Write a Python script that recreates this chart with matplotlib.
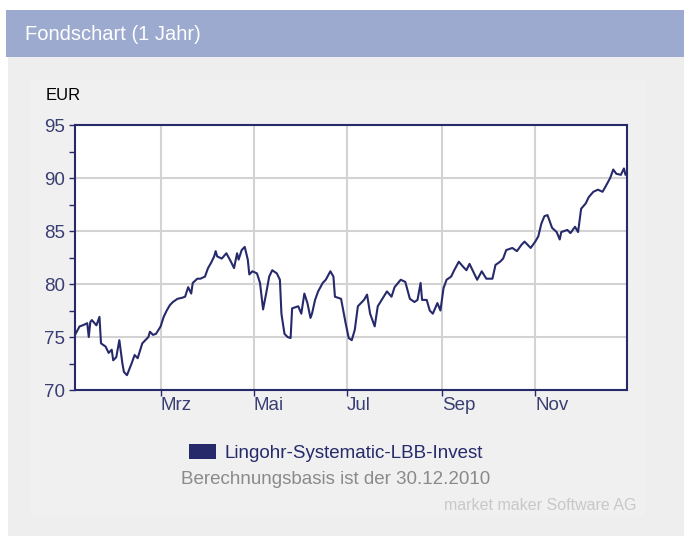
import matplotlib.pyplot as plt
from matplotlib.patches import Rectangle, Patch
import pandas as pd

plt.rcParams['font.family'] = ['Liberation Sans', 'DejaVu Sans']

dates = ['2011-01-04', '2011-01-07', '2011-01-09', '2011-01-12', '2011-01-13', '2011-01-14',
         '2011-01-15', '2011-01-18', '2011-01-20', '2011-01-21', '2011-01-24', '2011-01-26',
         '2011-01-28', '2011-01-29', '2011-01-31', '2011-02-02', '2011-02-04', '2011-02-05',
         '2011-02-07', '2011-02-10', '2011-02-12', '2011-02-14', '2011-02-17', '2011-02-19',
         '2011-02-21', '2011-02-22', '2011-02-24', '2011-02-26', '2011-03-01', '2011-03-03',
         '2011-03-05', '2011-03-07', '2011-03-09', '2011-03-12', '2011-03-15', '2011-03-17',
         '2011-03-19', '2011-03-21', '2011-03-22', '2011-03-25', '2011-03-27', '2011-03-30',
         '2011-04-01', '2011-04-03', '2011-04-05', '2011-04-06', '2011-04-07', '2011-04-10',
         '2011-04-13', '2011-04-16', '2011-04-18', '2011-04-20', '2011-04-21', '2011-04-23',
         '2011-04-25', '2011-04-27', '2011-04-28', '2011-04-30', '2011-05-03', '2011-05-05',
         '2011-05-07', '2011-05-09', '2011-05-11', '2011-05-13', '2011-05-16', '2011-05-18',
         '2011-05-19', '2011-05-21', '2011-05-23', '2011-05-25', '2011-05-26', '2011-05-30',
         '2011-06-01', '2011-06-03', '2011-06-05', '2011-06-07', '2011-06-08', '2011-06-10',
         '2011-06-12', '2011-06-15', '2011-06-17', '2011-06-20', '2011-06-22', '2011-06-23',
         '2011-06-27', '2011-06-30', '2011-07-02', '2011-07-04', '2011-07-06', '2011-07-08',
         '2011-07-12', '2011-07-14', '2011-07-16', '2011-07-19', '2011-07-21', '2011-07-24',
         '2011-07-27', '2011-07-30', '2011-08-01', '2011-08-05', '2011-08-08', '2011-08-11',
         '2011-08-14', '2011-08-16', '2011-08-18', '2011-08-19', '2011-08-22', '2011-08-24',
         '2011-08-26', '2011-08-29', '2011-08-31', '2011-09-02', '2011-09-04', '2011-09-07',
         '2011-09-09', '2011-09-12', '2011-09-15', '2011-09-17', '2011-09-19', '2011-09-22',
         '2011-09-24', '2011-09-27', '2011-09-30', '2011-10-04', '2011-10-06', '2011-10-09',
         '2011-10-11', '2011-10-13', '2011-10-17', '2011-10-20', '2011-10-23', '2011-10-25',
         '2011-10-29', '2011-11-01', '2011-11-03', '2011-11-05', '2011-11-07', '2011-11-09',
         '2011-11-12', '2011-11-15', '2011-11-17', '2011-11-18', '2011-11-22', '2011-11-24',
         '2011-11-27', '2011-11-29', '2011-12-01', '2011-12-04', '2011-12-06', '2011-12-09',
         '2011-12-12', '2011-12-15', '2011-12-17', '2011-12-20', '2011-12-22', '2011-12-24',
         '2011-12-27', '2011-12-29', '2011-12-30', '2011-12-31']
prices = [75.2, 76.0, 76.1, 76.3, 75.0, 76.4,
          76.6, 76.1, 76.9, 74.4, 74.1, 73.5,
          73.8, 72.8, 73.1, 74.7, 72.5, 71.7,
          71.4, 72.5, 73.3, 73.0, 74.4, 74.7,
          75.0, 75.5, 75.2, 75.3, 76.0, 76.9,
          77.5, 78.0, 78.3, 78.6, 78.7, 78.8,
          79.7, 79.1, 80.1, 80.5, 80.5, 80.7,
          81.5, 82.0, 82.6, 83.1, 82.6, 82.4,
          82.9, 82.1, 81.5, 82.9, 82.3, 83.2,
          83.5, 82.3, 80.9, 81.2, 81.0, 80.1,
          77.6, 79.1, 80.7, 81.3, 81.0, 80.4,
          77.2, 75.3, 75.0, 74.9, 77.7, 77.9,
          77.2, 79.1, 78.2, 76.8, 77.2, 78.5,
          79.3, 80.1, 80.4, 81.2, 80.7, 78.8,
          78.6, 76.3, 74.9, 74.7, 75.7, 77.9,
          78.5, 79.0, 77.2, 76.0, 77.9, 78.6,
          79.3, 78.8, 79.7, 80.4, 80.2, 78.6,
          78.3, 78.5, 80.1, 78.5, 78.5, 77.5,
          77.2, 78.2, 77.5, 79.6, 80.4, 80.7,
          81.3, 82.1, 81.6, 81.3, 81.9, 81.0,
          80.4, 81.2, 80.5, 80.5, 81.8, 82.1,
          82.4, 83.2, 83.4, 83.1, 83.7, 84.0,
          83.4, 84.0, 84.5, 85.7, 86.4, 86.5,
          85.3, 84.9, 84.2, 84.9, 85.1, 84.8,
          85.4, 84.9, 87.1, 87.6, 88.2, 88.7,
          88.9, 88.7, 89.2, 90.0, 90.8, 90.4,
          90.3, 90.9, 90.3, 90.4]

month_ticks = ['2011-03-01', '2011-05-01', '2011-07-01', '2011-09-01', '2011-11-01']
month_labels = ['Mrz', 'Mai', 'Jul', 'Sep', 'Nov']
y_major = [70, 75, 80, 85, 90, 95]
y_minor = [72.5, 77.5, 82.5, 87.5, 92.5]

navy = '#262a6b'
label_col = '#3a3e72'

W, H = 684, 536
fig = plt.figure(figsize=(W / 100, H / 100), dpi=100)
fig.patch.set_facecolor('white')


def box(x0, y0, x1, y1, color):
    # Pixelkoordinaten (oben links = 0,0)
    fig.add_artist(Rectangle((x0 / W, 1 - y1 / H), (x1 - x0) / W, (y1 - y0) / H,
                             transform=fig.transFigure, facecolor=color,
                             edgecolor='none', zorder=0))


box(6, 10, 684, 57, '#9caad0')
box(8, 57, 684, 536, '#eeeeee')
box(30, 80, 645, 515, '#f0f0f0')
fig.text(25 / W, 1 - 34 / H, 'Fondschart (1 Jahr)', color='white', fontsize=14.5, va='center')

ax = fig.add_axes([75 / W, 1 - 390 / H, 552 / W, 265 / H])
ax.set_facecolor('white')
ax.plot(pd.to_datetime(dates), prices, color=navy, lw=1.5, zorder=3)

ax.set_xlim(pd.Timestamp('2011-01-04'), pd.Timestamp('2011-12-31'))
ax.set_ylim(70, 95)
ax.set_yticks(y_major)
ax.set_yticks(y_minor, minor=True)
ax.set_xticks(pd.to_datetime(month_ticks))
ax.set_xticklabels(month_labels, ha='left')
ax.grid(True, which='major', color='#d3d3d3', lw=1.5)
ax.set_axisbelow(True)
for s in ax.spines.values():
    s.set_color(navy)
    s.set_linewidth(1.5)
ax.tick_params(axis='y', which='both', direction='out', length=4, width=1, color=navy,
               labelcolor=label_col, labelsize=13.5, pad=3)
ax.tick_params(axis='x', direction='out', length=4, width=1, color=navy,
               labelcolor=label_col, labelsize=13.5, pad=1)

fig.text(46 / W, 1 - 96 / H, 'EUR', color='black', fontsize=12, va='center')

fig.legend(handles=[Patch(facecolor=navy, label='Lingohr-Systematic-LBB-Invest')],
           loc='center', bbox_to_anchor=(336 / W, 1 - 453 / H), frameon=False,
           fontsize=13.5, labelcolor=navy, handlelength=1.4, handleheight=0.9,
           handletextpad=0.45, borderpad=0)
fig.text(336 / W, 1 - 480 / H, 'Berechnungsbasis ist der 30.12.2010', color='#8a8a8a',
         fontsize=13.5, ha='center', va='center')
fig.text(637 / W, 1 - 505 / H, 'market maker Software AG', color='#c8c8c8',
         fontsize=11.5, ha='right', va='center')

fig.savefig('out.png', dpi=100)
